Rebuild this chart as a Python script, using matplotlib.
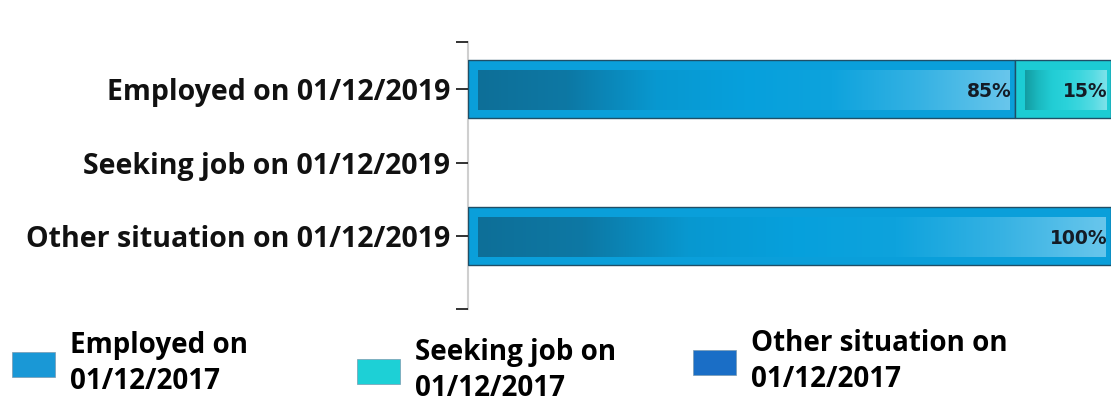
import numpy as np
import matplotlib
matplotlib.use('Agg')
import matplotlib.pyplot as plt
from matplotlib.colors import LinearSegmentedColormap
from matplotlib.patches import Patch

# data
categories = ['Employed on 01/12/2019', 'Seeking job on 01/12/2019', 'Other situation on 01/12/2019']
series_names = ['Employed on\n01/12/2017', 'Seeking job on\n01/12/2017', 'Other situation on\n01/12/2017']
employed = [85, 0, 100]
seeking = [15, 0, 0]
other = [0, 0, 0]

values = [employed, seeking, other]
fills = ['#0a9fda', '#1cccd4', '#1a6ec6']
legend_colors = ['#1a98d6', '#1dd0d6', '#1a6ec6']
grads = [
    ['#0e6f98', '#0d78a4', '#0898d0', '#06a0dc', '#0ea3dd', '#36b2e3', '#68c6ec'],
    ['#139ca2', '#1bb9c0', '#22cdd5', '#2ad2da', '#3cd6de', '#56dbe3', '#7ee2ea'],
    ['#124f90', '#1560a8', '#1a6ec6', '#1a6ec6', '#2a80d0', '#4a96da', '#70aee4'],
]

plt.rcParams['font.family'] = ['Open Sans', 'DejaVu Sans']

fig = plt.figure(figsize=(11.13, 4.03), dpi=100)
ax = fig.add_axes([468 / 1113, 1 - 309 / 403, 643 / 1113, 267 / 403])

y = np.arange(len(categories))
bar_h = 0.78
lefts = np.zeros(len(categories))
for vals, fc, gc in zip(values, fills, grads):
    vals = np.array(vals, dtype=float)
    lw = [1.0 if v > 0 else 0.0 for v in vals]
    ax.barh(y, vals, left=lefts, height=bar_h, color=fc, edgecolor='#1f4e66',
            linewidth=lw, zorder=2)
    cmap = LinearSegmentedColormap.from_list('g', gc)
    for yi, l, v in zip(y, lefts, vals):
        if v <= 0:
            continue
        x0 = l + 1.6
        x1 = l + v - 0.8
        ax.imshow(np.linspace(0, 1, 256).reshape(1, -1), cmap=cmap, aspect='auto',
                  extent=(x0, x1, yi + 0.28, yi - 0.26), zorder=3, interpolation='bilinear')
        ax.text(x1 + 0.3, yi + 0.03, f'{v:.0f}%', ha='right', va='center', fontsize=13.5,
                fontweight='bold', color='#141c26',
                family=['DejaVu Sans Condensed', 'DejaVu Sans'], zorder=4)
    lefts = lefts + vals

ax.set_xlim(0, 100)
ax.set_ylim(2.99, -0.64)
ax.set_yticks([-0.64, 0, 1, 2, 2.99])
ax.set_yticklabels([''] + categories + [''], fontsize=20.5, fontweight='bold', color='#111111')
ax.tick_params(axis='y', length=9, width=1.3, color='#222222', pad=4)
ax.set_xticks([])
for s in ['top', 'right', 'bottom']:
    ax.spines[s].set_visible(False)
ax.spines['left'].set_color('#cfcfcf')
ax.spines['left'].set_linewidth(1.5)
ax.spines['left'].set_zorder(1)

# legend, three separate blocks as in the reference
legend_pos = [(12 / 1113, 1 - 331 / 403), (357 / 1113, 1 - 338 / 403), (693 / 1113, 1 - 329 / 403)]
for name, col, pos in zip(series_names, legend_colors, legend_pos):
    leg = fig.legend(handles=[Patch(facecolor=col, edgecolor='#7a9ab0', linewidth=0.5)],
                     labels=[name], loc='upper left', bbox_to_anchor=pos, frameon=False,
                     prop={'weight': 'bold', 'size': 20}, handlelength=1.55,
                     handleheight=1.0, handletextpad=0.55, borderpad=0, borderaxespad=0,
                     labelspacing=0)
    for t in leg.get_texts():
        t.set_linespacing(1.3)

fig.savefig('out.png', dpi=100)
